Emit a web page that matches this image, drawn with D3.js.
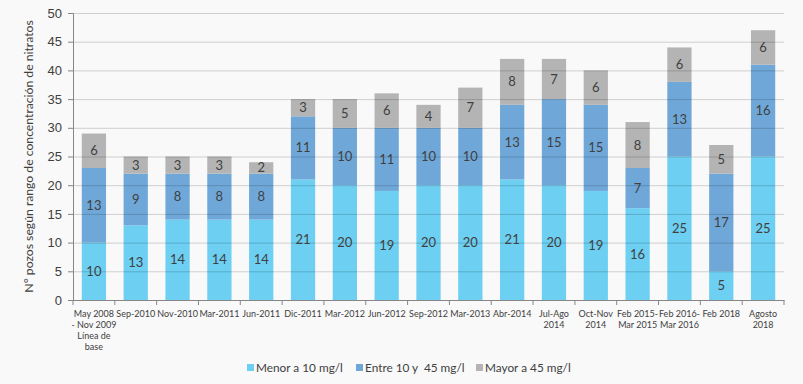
<!DOCTYPE html>
<html>
<head>
<meta charset="utf-8">
<script src="https://cdn.jsdelivr.net/npm/d3@7"></script>
<style>
  body { margin: 0; background: #f9f9f9; }
  svg { display: block; font-family: Lato, "Liberation Sans", Arial, sans-serif; }
</style>
</head>
<body>
<div id="chart"></div>
<script>
const categories = [
  'May 2008|- Nov 2009|Línea de|base', 'Sep-2010', 'Nov-2010', 'Mar-2011', 'Jun-2011',
  'Dic-2011', 'Mar-2012', 'Jun-2012', 'Sep-2012', 'Mar-2013', 'Abr-2014',
  'Jul-Ago|2014', 'Oct-Nov|2014', 'Feb 2015-|Mar 2015', 'Feb 2016-|Mar 2016',
  'Feb 2018', 'Agosto|2018'
];
const menor = [10, 13, 14, 14, 14, 21, 20, 19, 20, 20, 21, 20, 19, 16, 25, 5, 25];
const entre = [13, 9, 8, 8, 8, 11, 10, 11, 10, 10, 13, 15, 15, 7, 13, 17, 16];
const mayor = [6, 3, 3, 3, 2, 3, 5, 6, 4, 7, 8, 7, 6, 8, 6, 5, 6];
const seriesNames = ['Menor a 10 mg/l', 'Entre 10 y  45 mg/l', 'Mayor a 45 mg/l'];
const yTicks = [0, 5, 10, 15, 20, 25, 30, 35, 40, 45, 50];

const width = 803;
const height = 384;
const colors = ['#6dcff2', '#6fa8d8', '#b4b4b4'];

const rows = categories.map((c, i) => ({ cat: c, s0: menor[i], s1: entre[i], s2: mayor[i] }));
const stack = d3.stack().keys(['s0', 's1', 's2'])(rows);

const svg = d3.select('#chart')
  .append('svg')
  .attr('width', width)
  .attr('height', height);

const area = { left: 73, right: 784, top: 13, bottom: 300 };

const x = d3.scaleBand()
  .domain(categories)
  .range([area.left, area.right])
  .paddingInner(0.42)
  .paddingOuter(0.21);

const y = d3.scaleLinear()
  .domain([0, 50])
  .range([area.bottom, area.top]);

// bars
svg.append('g')
  .selectAll('g')
  .data(stack)
  .join('g')
  .attr('fill', (d, i) => colors[i])
  .selectAll('rect')
  .data(d => d)
  .join('rect')
  .attr('x', d => x(d.data.cat))
  .attr('y', d => y(d[1]))
  .attr('width', x.bandwidth())
  .attr('height', d => y(d[0]) - y(d[1]));

// gridlines (they show through the bars in the original)
svg.append('g')
  .attr('transform', `translate(${area.left},0)`)
  .call(d3.axisLeft(y).tickValues(yTicks).tickFormat('').tickSize(-(area.right - area.left)))
  .call(g => g.select('.domain').remove())
  .call(g => g.selectAll('line').attr('stroke', 'rgba(0,0,0,0.17)'));

// value labels
svg.append('g')
  .selectAll('g')
  .data(stack)
  .join('g')
  .selectAll('text')
  .data(d => d)
  .join('text')
  .attr('x', d => x(d.data.cat) + x.bandwidth() / 2)
  .attr('y', d => (y(d[0]) + y(d[1])) / 2 + 4.5)
  .attr('text-anchor', 'middle')
  .attr('font-size', 13)
  .attr('fill', '#404040')
  .text(d => d[1] - d[0]);

// y axis
const yAxis = svg.append('g')
  .attr('transform', `translate(${area.left},0)`)
  .call(d3.axisLeft(y).tickValues(yTicks).tickSize(5).tickPadding(6));
yAxis.select('.domain').attr('stroke', '#868686');
yAxis.selectAll('line').attr('stroke', '#868686');
yAxis.selectAll('text').attr('font-size', 13).attr('fill', '#404040').attr('font-family', null);

// x axis
const xAxis = svg.append('g')
  .attr('transform', `translate(0,${area.bottom})`)
  .call(d3.axisBottom(x).tickSize(0).tickFormat(''));
xAxis.select('.domain').attr('stroke', '#868686');

const bounds = d3.range(categories.length + 1).map(i => area.left + i * (area.right - area.left) / categories.length);
svg.append('g')
  .selectAll('line')
  .data(bounds)
  .join('line')
  .attr('x1', d => d).attr('x2', d => d)
  .attr('y1', area.bottom).attr('y2', area.bottom + 5)
  .attr('stroke', '#868686');

svg.append('g')
  .selectAll('text')
  .data(categories)
  .join('text')
  .attr('text-anchor', 'middle')
  .attr('font-size', 9)
  .attr('fill', '#404040')
  .attr('transform', d => `translate(${x(d) + x.bandwidth() / 2},${area.bottom + 17})`)
  .each(function(d) {
    d3.select(this).selectAll('tspan')
      .data(d.split('|'))
      .join('tspan')
      .attr('x', 0)
      .attr('dy', (t, i) => i === 0 ? 0 : 11)
      .text(t => t);
  });

// y title
svg.append('text')
  .attr('transform', `translate(33,${(area.top + area.bottom) / 2}) rotate(-90)`)
  .attr('text-anchor', 'middle')
  .attr('font-size', 12.2)
  .attr('fill', '#404040')
  .text('N° pozos según rango de concentración de nitratos');

// legend
const legendX = [247, 356, 476];
const legend = svg.append('g')
  .selectAll('g')
  .data(seriesNames)
  .join('g')
  .attr('transform', (d, i) => `translate(${legendX[i]},368)`);
legend.append('rect')
  .attr('x', 0).attr('y', -4)
  .attr('width', 7).attr('height', 7)
  .attr('fill', (d, i) => colors[i]);
legend.append('text')
  .attr('x', 9).attr('y', 4)
  .attr('font-size', 11.8)
  .attr('fill', '#404040')
  .style('white-space', 'pre')
  .text(d => d);
</script>
</body>
</html>
